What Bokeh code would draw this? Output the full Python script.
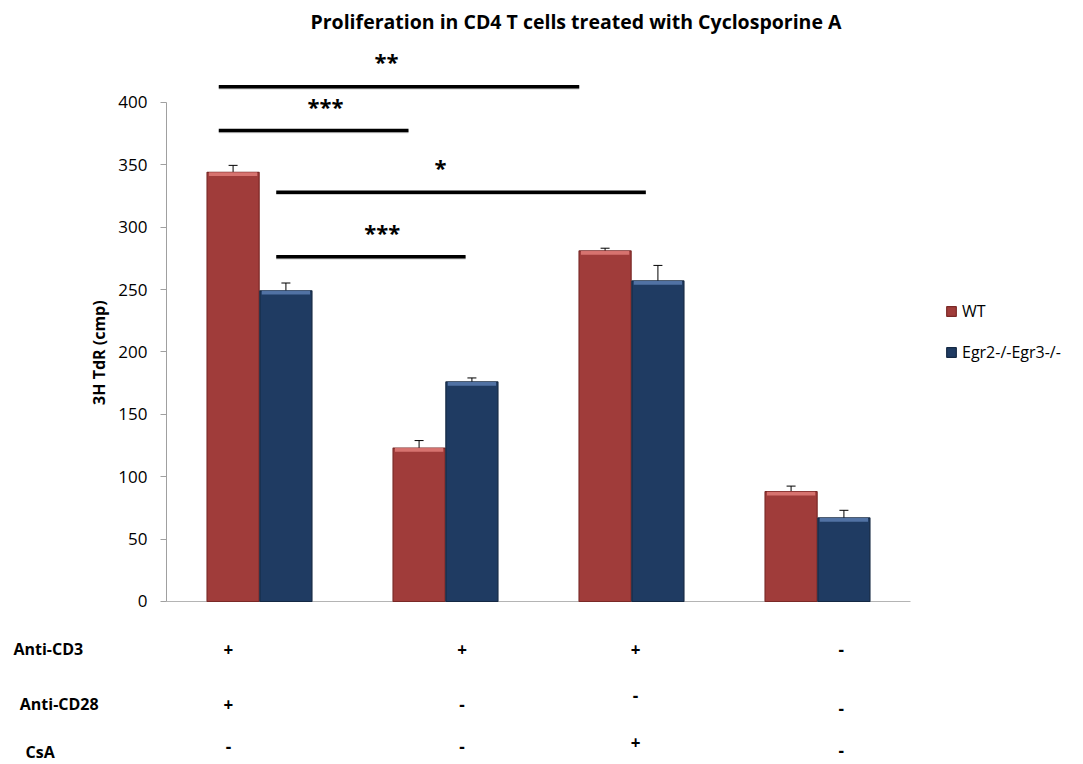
import numpy as np
from bokeh.plotting import figure
from bokeh.models import (ColumnDataSource, Range1d, LinearAxis, FixedTicker,
                          Whisker, TeeHead, Legend, LegendItem)
from bokeh.core.properties import value
from bokeh.embed import file_html
from bokeh.resources import INLINE

# ---------------- data ----------------
series = ["WT", "Egr2-/-Egr3-/-"]
wt_vals = [344, 123, 281, 88]
wt_err = [5.6, 6.0, 2.2, 4.5]
ko_vals = [249, 176, 257, 67]
ko_err = [6.3, 3.2, 12.4, 6.1]

row_names = ["Anti-CD3", "Anti-CD28", "CsA"]
anti_cd3 = ["+", "+", "+", "-"]
anti_cd28 = ["+", "-", "-", "-"]
csa = ["-", "-", "+", "-"]

y_ticks = [0, 50, 100, 150, 200, 250, 300, 350, 400]
y_label = "3H TdR (cmp)"
title = "Proliferation in CD4 T cells treated with Cyclosporine A"

sig_labels = ["**", "***", "*", "***"]

# ---------------- layout (positions only) ----------------
sig_x0 = [0.281, 0.281, 0.590, 0.590]
sig_x1 = [2.219, 1.301, 2.577, 1.608]
sig_y = [411.8, 376.8, 327.3, 275.5]
sig_lx = [1.183, 0.855, 1.473, 1.160]
sig_ly = [432.9, 397.4, 347.9, 296.4]

cell_x = [0.333, 1.589, 2.522, 3.627]
row_y = [[-38.5, -38.5, -38.5, -38.5],
         [-82.6, -82.6, -75.4, -85.8],
         [-116.2, -116.2, -112.8, -119.3]]
row_label_x = [-0.823, -0.789, -0.758]
row_label_y = [-37.7, -81.8, -120.3]
ylabel_x, ylabel_y = -0.365, 199.5

n = len(wt_vals)
centers = np.arange(n) + 0.5
off = 0.142
bw = 0.28

FONT = "Open Sans"

p = figure(frame_width=1080, frame_height=724,
           x_range=Range1d(-0.8925, 4.914), y_range=Range1d(-129.06, 451.3),
           output_backend="svg", toolbar_location=None,
           x_axis_type=None, y_axis_type=None,
           min_border_left=0, min_border_right=0,
           min_border_top=38, min_border_bottom=0,
           outline_line_color=None, background_fill_color="white",
           border_fill_color="white")

p.title.text = title
p.title.align = "left"
p.title.offset = 310
p.title.text_font = FONT
p.title.text_font_size = "19.5px"
p.title.text_font_style = "bold"
p.title.text_color = "#000000"
p.title.standoff = 7

yaxis = LinearAxis(bounds=(0, 400), ticker=FixedTicker(ticks=y_ticks),
                   fixed_location=0)
yaxis.axis_line_color = "#a0a0a0"
yaxis.major_tick_line_color = "#a0a0a0"
yaxis.major_tick_out = 6
yaxis.major_tick_in = 0
yaxis.minor_tick_line_color = None
yaxis.major_label_standoff = 13
yaxis.major_label_text_font = FONT
yaxis.major_label_text_font_size = "17px"
yaxis.major_label_text_color = "#000000"
p.add_layout(yaxis, "left")

p.text(x=[ylabel_x], y=[ylabel_y], text=[y_label], angle=np.pi / 2,
       text_font=value(FONT), text_font_size="16px", text_font_style="bold",
       text_align="center", text_baseline="middle", text_color="black")

# baseline (x axis line)
p.segment(x0=[0], y0=[0], x1=[n], y1=[0], line_color="#b4b4b4", line_width=1.2)

colors = {"WT": ("#a03c3a", "#7a2826", "#e07c79"),
          "KO": ("#1f3b62", "#142843", "#5a7db0")}

src_wt = ColumnDataSource(dict(x=centers - off, top=wt_vals,
                               hl=np.array(wt_vals) - 3.0,
                               up=np.array(wt_vals) + np.array(wt_err),
                               lo=np.array(wt_vals) - np.array(wt_err)))
src_ko = ColumnDataSource(dict(x=centers + off, top=ko_vals,
                               hl=np.array(ko_vals) - 3.0,
                               up=np.array(ko_vals) + np.array(ko_err),
                               lo=np.array(ko_vals) - np.array(ko_err)))

renderers = []
for src, key in [(src_wt, "WT"), (src_ko, "KO")]:
    main, edge, light = colors[key]
    r = p.vbar(x="x", top="top", bottom=0, width=bw, source=src,
               fill_color=main, line_color=edge, line_width=1.2)
    p.vbar(x="x", top="top", bottom="hl", width=bw - 0.02, source=src,
           fill_color=light, line_color=None, fill_alpha=0.85)
    renderers.append(r)
    w = Whisker(base="x", upper="up", lower="lo", source=src, dimension="height",
                line_color="black", line_width=1,
                upper_head=TeeHead(size=9, line_color="black", line_width=1),
                lower_head=TeeHead(size=9, line_color="black", line_width=1))
    p.add_layout(w)

# significance bars
p.segment(x0=sig_x0, y0=sig_y, x1=sig_x1, y1=sig_y, line_color="#d0d0d0",
          line_width=3.5)
p.segment(x0=sig_x0, y0=np.array(sig_y) + 0.8, x1=sig_x1, y1=np.array(sig_y) + 0.8,
          line_color="black", line_width=3.5)
p.text(x=sig_lx, y=sig_ly, text=sig_labels, text_font=value(FONT),
       text_font_size="22px", text_font_style="bold", text_align="center",
       text_baseline="middle", text_color="black")

# condition table
rows = [anti_cd3, anti_cd28, csa]
tx, ty, tt = [], [], []
for r_i, row in enumerate(rows):
    for g_i, sym in enumerate(row):
        tx.append(cell_x[g_i])
        ty.append(row_y[r_i][g_i])
        tt.append(sym)
p.text(x=tx, y=ty, text=tt, text_font=value(FONT), text_font_size="17px",
       text_font_style="bold", text_align="center", text_baseline="middle",
       text_color="black")

p.text(x=row_label_x, y=row_label_y, text=row_names, text_font=value(FONT),
       text_font_size="16px", text_font_style="bold", text_align="left",
       text_baseline="middle", text_color="black")

legend = Legend(items=[LegendItem(label=s, renderers=[r]) for s, r in zip(series, renderers)],
                location=(945, 399))
legend.glyph_width = 12
legend.glyph_height = 12
legend.label_height = 20
legend.spacing = 19
legend.padding = 0
legend.margin = 0
legend.label_standoff = 5
legend.border_line_color = None
legend.background_fill_alpha = 0
legend.label_text_font = FONT
legend.label_text_font_size = "16px"
legend.label_text_color = "#000000"
p.add_layout(legend, "center")

open("out.html", "w").write(file_html(p, INLINE))
